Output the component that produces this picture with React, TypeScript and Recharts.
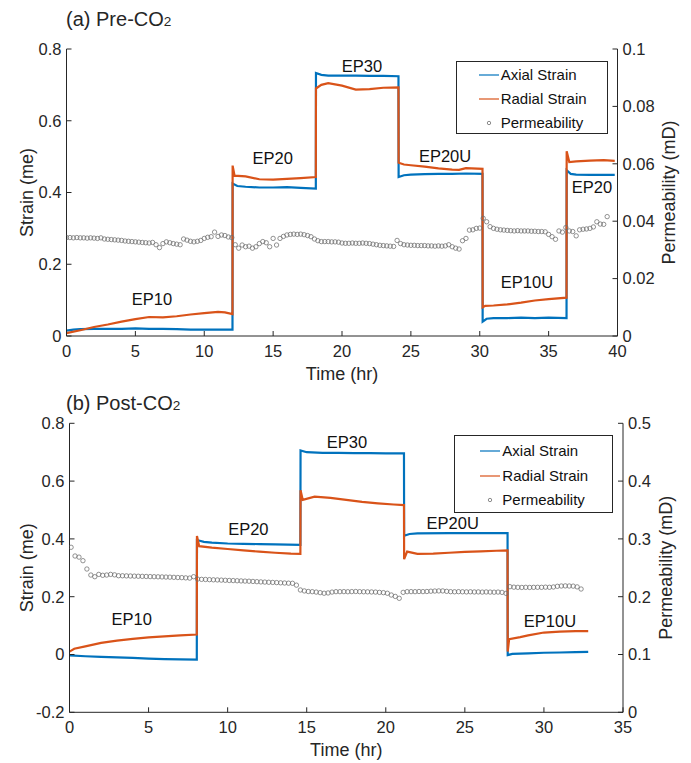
import {
  ComposedChart,
  Label,
  Legend,
  Line,
  ReferenceDot,
  Scatter,
  XAxis,
  YAxis,
} from "recharts";

const AXIAL = "#0072BD";
const RADIAL = "#D95319";
const INK = "#262626";
const CIRCLE = "#6e6e6e";
const FONT = '"Liberation Sans", Arial, Helvetica, sans-serif';

// ---- (a) Pre-CO2 ---- [hour, strain (me)]
const preAxial: [number, number][] = [
  [0, 0.015], [0.5, 0.018], [1, 0.019], [2, 0.02], [3, 0.02], [4, 0.02], [5, 0.021], [6, 0.02],
  [7, 0.02], [8, 0.019], [9, 0.018], [10, 0.018], [11, 0.018], [12.05, 0.018],
  [12.06, 0.425], [12.4, 0.418], [13, 0.416], [14, 0.414], [15, 0.414], [16, 0.415], [17, 0.413], [18.1, 0.411],
  [18.11, 0.733], [18.5, 0.728], [19, 0.726], [20, 0.726], [21, 0.726], [22, 0.725], [23, 0.725], [24.1, 0.724],
  [24.11, 0.443], [24.5, 0.448], [25, 0.45], [26, 0.451], [27, 0.452], [28, 0.452], [29, 0.453], [30.2, 0.452],
  [30.21, 0.04], [30.5, 0.048], [31, 0.05], [32, 0.05], [33, 0.051], [34, 0.05], [35, 0.051], [36.3, 0.05],
  [36.31, 0.462], [36.6, 0.452], [37, 0.45], [38, 0.449], [39, 0.449], [39.8, 0.449],
];
const preRadial: [number, number][] = [
  [0, 0.008], [1, 0.016], [2, 0.025], [3, 0.032], [4, 0.04], [5, 0.047], [6, 0.053], [7, 0.052],
  [8, 0.055], [9, 0.06], [10, 0.064], [11, 0.067], [11.5, 0.066], [12.05, 0.061],
  [12.06, 0.475], [12.2, 0.447], [13, 0.445], [14, 0.437], [15, 0.436], [16, 0.438], [17, 0.44], [18.1, 0.443],
  [18.11, 0.69], [18.5, 0.7], [19, 0.705], [20, 0.698], [21, 0.687], [22, 0.688], [23, 0.692], [24.1, 0.693],
  [24.11, 0.483], [24.5, 0.478], [25, 0.476], [26, 0.472], [27, 0.467], [28, 0.464], [28.5, 0.463], [29, 0.468], [30.2, 0.466],
  [30.21, 0.08], [30.4, 0.084], [31, 0.085], [32, 0.088], [33, 0.093], [34, 0.099], [35, 0.103], [36.3, 0.107],
  [36.31, 0.515], [36.5, 0.485], [37, 0.487], [38, 0.489], [39, 0.49], [39.8, 0.488],
];
// permeability (mD), sampled every 0.25 hr from 0 hr
const prePermStart = 0;
const prePermStep = 0.25;
const prePerm = [
  0.0343, 0.0343, 0.0342, 0.0343, 0.0342, 0.0342, 0.0341, 0.0342, 0.0341, 0.034, 0.0342, 0.0338,
  0.0337, 0.0336, 0.0335, 0.0334, 0.0333, 0.0331, 0.033, 0.0329, 0.0328, 0.0327, 0.0326, 0.0325,
  0.0324, 0.0326, 0.0318, 0.0308, 0.0322, 0.0328, 0.0325, 0.0322, 0.032, 0.0318, 0.0338, 0.0334,
  0.033, 0.0328, 0.033, 0.0333, 0.034, 0.0344, 0.0346, 0.0362, 0.0347, 0.0352, 0.035, 0.0345,
  0.0343, 0.0318, 0.0306, 0.0317, 0.0311, 0.0313, 0.0306, 0.0311, 0.0322, 0.0329, 0.0325, 0.0311,
  0.034, 0.0317, 0.034, 0.0347, 0.0352, 0.0354, 0.0355, 0.0354, 0.0355, 0.0353, 0.035, 0.0346,
  0.0338, 0.0332, 0.0329, 0.0329, 0.0329, 0.0328, 0.0328, 0.0327, 0.0324, 0.0323, 0.0323, 0.0324,
  0.0323, 0.0323, 0.0324, 0.0323, 0.0322, 0.032, 0.0318, 0.0316, 0.0315, 0.0314, 0.0313, 0.0312,
  0.0333, 0.0322, 0.0318, 0.0317, 0.0316, 0.0316, 0.0315, 0.0315, 0.0315, 0.0314, 0.0314, 0.0313,
  0.0314, 0.0313, 0.0314, 0.0318, 0.0311, 0.0306, 0.0303, 0.0332, 0.034, 0.0369, 0.037, 0.0375,
  0.0376, 0.041, 0.0398, 0.0381, 0.0375, 0.0372, 0.037, 0.0369, 0.0368, 0.0367, 0.0366, 0.0367,
  0.0366, 0.0366, 0.0366, 0.0365, 0.0365, 0.0364, 0.0364, 0.0363, 0.0354, 0.0346, 0.0337, 0.0366,
  0.0362, 0.0378, 0.0366, 0.0364, 0.0349, 0.037, 0.0372, 0.0373, 0.0375, 0.038, 0.0398, 0.039,
  0.0389, 0.0416,
];
const preTimeTicks = [0, 5, 10, 15, 20, 25, 30, 35, 40];
const preStrainTicks = [0, 0.2, 0.4, 0.6, 0.8];
const prePermTicks = [0, 0.02, 0.04, 0.06, 0.08, 0.1];
const preStages = [
  { name: "EP10", t: 6.2, s: 0.103 },
  { name: "EP20", t: 14.97, s: 0.495 },
  { name: "EP30", t: 21.45, s: 0.751 },
  { name: "EP20U", t: 27.48, s: 0.502 },
  { name: "EP10U", t: 33.43, s: 0.15 },
  { name: "EP20", t: 38.15, s: 0.414 },
];

// ---- (b) Post-CO2 ----
const postAxial: [number, number][] = [
  [0, -0.003], [1, -0.006], [2, -0.008], [3, -0.01], [4, -0.012], [5, -0.014], [6, -0.016], [7, -0.017], [8.05, -0.018],
  [8.06, 0.396], [8.5, 0.39], [9, 0.387], [10, 0.384], [11, 0.383], [12, 0.382], [13, 0.381], [14.6, 0.379],
  [14.61, 0.706], [15, 0.7], [16, 0.698], [17, 0.698], [18, 0.697], [19, 0.697], [20, 0.696], [21.15, 0.696],
  [21.16, 0.411], [21.5, 0.417], [22, 0.419], [24, 0.42], [26, 0.42], [27.7, 0.42],
  [27.71, -0.002], [28, 0.002], [29, 0.004], [30, 0.006], [31, 0.007], [32, 0.008], [32.8, 0.009],
];
const postRadial: [number, number][] = [
  [0, 0.01], [0.3, 0.02], [1, 0.028], [2, 0.04], [3, 0.048], [4, 0.054], [5, 0.059], [6, 0.063], [7, 0.066], [8.05, 0.069],
  [8.06, 0.41], [8.2, 0.375], [9, 0.37], [10, 0.365], [11, 0.36], [12, 0.356], [13, 0.352], [14, 0.349], [14.6, 0.348],
  [14.61, 0.568], [14.75, 0.535], [15.5, 0.546], [16.5, 0.542], [17.5, 0.535], [18.5, 0.528], [19.5, 0.523], [20.5, 0.519], [21.15, 0.517],
  [21.16, 0.33], [21.35, 0.356], [22, 0.348], [23, 0.349], [24, 0.352], [25, 0.355], [26, 0.357], [27, 0.359], [27.7, 0.36],
  [27.71, 0.01], [27.8, 0.053], [28.5, 0.06], [29, 0.066], [30, 0.076], [31, 0.079], [32, 0.081], [32.8, 0.081],
];
const postPermStart = 0.1;
const postPermStep = 0.25;
const postPerm = [
  0.2855, 0.2704, 0.2685, 0.2623, 0.2479, 0.2375, 0.2346, 0.2386, 0.237, 0.2375, 0.2386, 0.2378,
  0.2363, 0.2362, 0.236, 0.2358, 0.2356, 0.2354, 0.2352, 0.235, 0.2348, 0.2346, 0.2344, 0.2342,
  0.234, 0.2338, 0.2335, 0.2332, 0.233, 0.2326, 0.2322, 0.2346, 0.2305, 0.23, 0.2298, 0.2295,
  0.2292, 0.229, 0.2287, 0.2284, 0.2281, 0.2279, 0.2276, 0.2273, 0.227, 0.2268, 0.2264, 0.226,
  0.2256, 0.2253, 0.225, 0.2247, 0.2244, 0.224, 0.2237, 0.2234, 0.2232, 0.22, 0.2116, 0.21,
  0.209, 0.2087, 0.208, 0.207, 0.206, 0.2065, 0.208, 0.2087, 0.2087, 0.2088, 0.2086, 0.2088,
  0.209, 0.2087, 0.2085, 0.2084, 0.2082, 0.208, 0.2075, 0.207, 0.206, 0.2029, 0.2005, 0.1972,
  0.2075, 0.2087, 0.2088, 0.2087, 0.209, 0.2088, 0.209, 0.2095, 0.2098, 0.21, 0.21, 0.2093,
  0.2087, 0.2085, 0.2087, 0.2085, 0.2083, 0.2085, 0.2082, 0.2083, 0.208, 0.2082, 0.208, 0.2078,
  0.208, 0.2075, 0.2058, 0.2173, 0.2165, 0.2162, 0.216, 0.2162, 0.216, 0.2162, 0.2163, 0.2162,
  0.2165, 0.2163, 0.2168, 0.218, 0.2185, 0.2187, 0.2185, 0.2183, 0.217, 0.2133,
];
const postTimeTicks = [0, 5, 10, 15, 20, 25, 30, 35];
const postStrainTicks = [-0.2, 0, 0.2, 0.4, 0.6, 0.8];
const postPermTicks = [0, 0.1, 0.2, 0.3, 0.4, 0.5];
const postStages = [
  { name: "EP10", t: 3.93, s: 0.121 },
  { name: "EP20", t: 11.31, s: 0.435 },
  { name: "EP30", t: 17.55, s: 0.736 },
  { name: "EP20U", t: 24.23, s: 0.456 },
  { name: "EP10U", t: 30.38, s: 0.116 },
];

const legendItems = [
  { name: "Axial Strain", kind: "line", color: AXIAL },
  { name: "Radial Strain", kind: "line", color: RADIAL },
  { name: "Permeability", kind: "circle", color: CIRCLE },
];

type Box = { left: number; top: number; width: number; height: number; rows: number[]; lineX: number };

function LegendBox({ box }: { box: Box }) {
  return (
    <div
      style={{
        position: "absolute",
        left: 0,
        top: 0,
        width: box.width,
        height: box.height,
        boxSizing: "border-box",
        border: `1px solid ${INK}`,
        background: "#fff",
        fontFamily: FONT,
        fontSize: 15,
        color: "#111",
      }}
    >
      {legendItems.map((it, i) => (
        <div
          key={it.name}
          style={{ position: "absolute", left: 0, top: box.rows[i] - 10, height: 20, display: "flex", alignItems: "center" }}
        >
          <svg width={box.lineX + 22} height={20} style={{ display: "block" }}>
            {it.kind === "line" ? (
              <line x1={box.lineX} x2={box.lineX + 20} y1={10} y2={10} stroke={it.color} strokeWidth={1.2} />
            ) : (
              <circle cx={box.lineX + 10} cy={10} r={1.7} fill="none" stroke={it.color} strokeWidth={0.8} />
            )}
          </svg>
          <span style={{ lineHeight: "20px", whiteSpace: "nowrap" }}>{it.name}</span>
        </div>
      ))}
    </div>
  );
}

const OpenCircle = (p: any) => (
  <circle cx={p.cx} cy={p.cy} r={2.2} fill="none" stroke={CIRCLE} strokeWidth={0.75} />
);

type PanelProps = {
  top: number;
  height: number;
  tag: string;
  phase: string;
  titleTop: number;
  margin: { top: number; right: number; bottom: number; left: number };
  axial: [number, number][];
  radial: [number, number][];
  perm: number[];
  permStart: number;
  permStep: number;
  timeTicks: number[];
  strainTicks: number[];
  permTicks: number[];
  stages: { name: string; t: number; s: number }[];
  legend: Box;
  leftTitleGap: number;
  rightTitleGap: number;
};

function StrainPanel(p: PanelProps) {
  const axialRows = p.axial.map(([t, v]) => ({ t, v }));
  const radialRows = p.radial.map(([t, v]) => ({ t, v }));
  const permRows = p.perm.map((k, i) => ({ t: p.permStart + i * p.permStep, k }));
  const tDomain = [p.timeTicks[0], p.timeTicks[p.timeTicks.length - 1]];
  const sDomain = [p.strainTicks[0], p.strainTicks[p.strainTicks.length - 1]];
  const kDomain = [p.permTicks[0], p.permTicks[p.permTicks.length - 1]];
  const tickStyle = { fill: INK, fontSize: 16.5 };

  const yTitle = (text: string, side: "left" | "right") => (lp: any) => {
    const vb = lp.viewBox;
    const x = side === "left" ? vb.x + vb.width - p.leftTitleGap : vb.x + p.rightTitleGap;
    const y = vb.y + vb.height / 2;
    return (
      <text x={x} y={y} transform={`rotate(-90 ${x} ${y})`} textAnchor="middle" fill={INK} fontSize={18}>
        {text}
      </text>
    );
  };
  const xTitle = (lp: any) => {
    const vb = lp.viewBox;
    return (
      <text x={vb.x + vb.width / 2} y={vb.y + 44} textAnchor="middle" fill={INK} fontSize={18}>
        Time (hr)
      </text>
    );
  };

  return (
    <div style={{ position: "absolute", left: 0, top: p.top, width: 691, height: p.height, fontFamily: FONT }}>
      <div
        style={{
          position: "absolute",
          left: 66,
          top: p.titleTop,
          fontSize: 20,
          lineHeight: 1,
          color: INK,
          whiteSpace: "nowrap",
          zIndex: 2,
        }}
      >
        {p.tag} {p.phase}-CO<span style={{ fontSize: "0.68em" }}>2</span>
      </div>
      <ComposedChart width={691} height={p.height} margin={p.margin}>
        <XAxis
          xAxisId="t"
          dataKey="t"
          type="number"
          domain={tDomain}
          ticks={p.timeTicks}
          interval={0}
          allowDataOverflow
          height={p.margin.bottom > 4.5 ? 46 : 50}
          stroke={INK}
          tickSize={-5}
          tickMargin={14}
          tick={tickStyle}
        >
          <Label content={xTitle} />
        </XAxis>
        <XAxis
          xAxisId="top"
          orientation="top"
          dataKey="t"
          type="number"
          domain={tDomain}
          ticks={p.timeTicks}
          interval={0}
          allowDataOverflow
          height={0}
          stroke={INK}
          tickSize={-5}
          tickFormatter={() => ""}
        />
        <YAxis
          yAxisId="left"
          type="number"
          domain={sDomain}
          ticks={p.strainTicks}
          interval={0}
          allowDataOverflow
          width={50}
          stroke={INK}
          tickSize={-5}
          tickMargin={10}
          tick={tickStyle}
        >
          <Label content={yTitle("Strain (me)", "left")} />
        </YAxis>
        <YAxis
          yAxisId="right"
          orientation="right"
          type="number"
          domain={kDomain}
          ticks={p.permTicks}
          interval={0}
          allowDataOverflow
          width={60}
          stroke={INK}
          tickSize={-5}
          tickMargin={10}
          tick={tickStyle}
        >
          <Label content={yTitle("Permeability (mD)", "right")} />
        </YAxis>
        <Scatter
          name="Permeability"
          xAxisId="t"
          yAxisId="right"
          data={permRows}
          dataKey="k"
          shape={OpenCircle}
          legendType="circle"
          isAnimationActive={false}
        />
        <Line
          name="Axial Strain"
          xAxisId="t"
          yAxisId="left"
          data={axialRows}
          dataKey="v"
          type="linear"
          stroke={AXIAL}
          strokeWidth={2.2}
          dot={false}
          activeDot={false}
          isAnimationActive={false}
        />
        <Line
          name="Radial Strain"
          xAxisId="t"
          yAxisId="left"
          data={radialRows}
          dataKey="v"
          type="linear"
          stroke={RADIAL}
          strokeWidth={2.2}
          dot={false}
          activeDot={false}
          isAnimationActive={false}
        />
        {p.stages.map((s, i) => (
          <ReferenceDot
            key={i}
            xAxisId="t"
            yAxisId="left"
            x={s.t}
            y={s.s}
            r={0}
            fill="none"
            stroke="none"
            label={{ value: s.name, position: "center", fill: "#111", fontSize: 16.5 }}
          />
        ))}
        <Legend
          content={() => <LegendBox box={p.legend} />}
          wrapperStyle={{ left: p.legend.left, top: p.legend.top, width: 0, height: 0, overflow: "visible" }}
        />
      </ComposedChart>
    </div>
  );
}

export default function App() {
  return (
    <div style={{ position: "absolute", left: 0, top: 0, width: 691, height: 763, background: "#fff" }}>
      <StrainPanel
        top={0}
        height={390}
        tag="(a)"
        phase="Pre"
        titleTop={8.5}
        margin={{ top: 49, right: 13.5, bottom: 4, left: 16.5 }}
        axial={preAxial}
        radial={preRadial}
        perm={prePerm}
        permStart={prePermStart}
        permStep={prePermStep}
        timeTicks={preTimeTicks}
        strainTicks={preStrainTicks}
        permTicks={prePermTicks}
        stages={preStages}
        legend={{ left: 455.7, top: 61, width: 152, height: 73, rows: [13, 36.7, 60.7], lineX: 22 }}
        leftTitleGap={33.5}
        rightTitleGap={57}
      />
      <StrainPanel
        top={390}
        height={373}
        tag="(b)"
        phase="Post"
        titleTop={3}
        margin={{ top: 33.3, right: 8, bottom: 4.7, left: 19.5 }}
        axial={postAxial}
        radial={postRadial}
        perm={postPerm}
        permStart={postPermStart}
        permStep={postPermStep}
        timeTicks={postTimeTicks}
        strainTicks={postStrainTicks}
        permTicks={postPermTicks}
        stages={postStages}
        legend={{ left: 454.3, top: 45, width: 159, height: 78, rows: [15, 40, 64.3], lineX: 25 }}
        leftTitleGap={36}
        rightTitleGap={49}
      />
    </div>
  );
}
